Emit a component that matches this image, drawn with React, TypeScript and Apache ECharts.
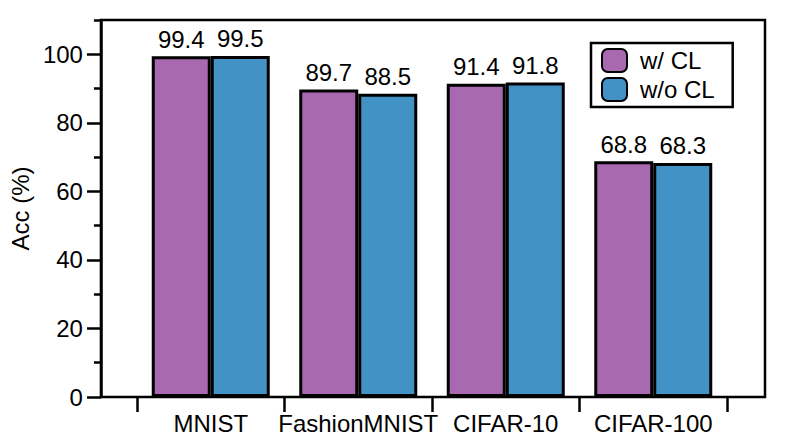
import React, { useEffect, useRef } from "react";
import * as echarts from "echarts";

const categories = ["MNIST", "FashionMNIST", "CIFAR-10", "CIFAR-100"];
const withCL = [99.4, 89.7, 91.4, 68.8];
const withoutCL = [99.5, 88.5, 91.8, 68.3];
const majorTicks = [0, 20, 40, 60, 80, 100];
const minorTicks = [10, 30, 50, 70, 90, 110];
const seriesNames = ["w/ CL", "w/o CL"];

const FONT = "'Liberation Sans', Arial, Helvetica, sans-serif";
const FS = 24;
const PURPLE = "#A869B0";
const BLUE = "#4392C6";

export default function App() {
  const ref = useRef<HTMLDivElement>(null);
  useEffect(() => {
    if (!ref.current) return;
    const chart = echarts.init(ref.current, null, { renderer: "svg" });
    const barStyle = (color: string) => ({
      color,
      borderColor: "#000",
      borderWidth: 3,
    });
    const label = {
      show: true,
      position: "top",
      distance: 5,
      color: "#000",
      fontSize: FS,
      fontFamily: FONT,
      formatter: (p: any) => p.value.toFixed(1),
    };
    chart.setOption({
      animation: false,
      textStyle: { fontFamily: FONT },
      grid: [
        {
          left: 100,
          right: 28,
          top: 20,
          bottom: 44,
          show: true,
          borderColor: "#000",
          borderWidth: 2.5,
          backgroundColor: "transparent",
        },
        { left: 137, right: 66, top: 20, bottom: 44 },
      ],
      legend: {
        data: seriesNames,
        orient: "vertical",
        left: 591,
        top: 43,
        icon: "roundRect",
        itemWidth: 25,
        itemHeight: 23,
        itemGap: 4,
        borderColor: "#000",
        borderWidth: 2.5,
        borderRadius: 0,
        padding: [5, 18, 5, 10],
        textStyle: {
          fontSize: FS,
          color: "#000",
          fontFamily: FONT,
          padding: [0, 0, 0, 8],
        },
      },
      xAxis: [
        { type: "value", gridIndex: 0, min: 0, max: 1, show: false },
        {
          type: "category",
          gridIndex: 1,
          data: categories,
          axisLine: { show: false },
          axisTick: {
            show: true,
            length: 15,
            lineStyle: { color: "#000", width: 2.5 },
          },
          axisLabel: {
            color: "#000",
            fontSize: FS,
            fontFamily: FONT,
            margin: 14,
            interval: 0,
          },
          splitLine: { show: false },
        },
      ],
      yAxis: [
        {
          type: "value",
          gridIndex: 0,
          min: 0,
          max: 110,
          interval: 10,
          name: "Acc (%)",
          nameLocation: "middle",
          nameGap: 64,
          nameTextStyle: { fontSize: FS, color: "#000", fontFamily: FONT },
          axisLine: { show: true, lineStyle: { color: "#000", width: 2.5 } },
          axisTick: {
            show: true,
            length: 14,
            customValues: majorTicks,
            lineStyle: { color: "#000", width: 2.5 },
          },
          axisLabel: {
            color: "#000",
            fontSize: FS,
            fontFamily: FONT,
            margin: 18,
            customValues: majorTicks,
          },
          splitLine: { show: false },
        },
        {
          type: "value",
          gridIndex: 0,
          position: "left",
          min: 0,
          max: 110,
          interval: 10,
          axisLine: { show: false },
          axisTick: {
            show: true,
            length: 7,
            customValues: minorTicks,
            lineStyle: { color: "#000", width: 2.5 },
          },
          axisLabel: { show: false },
          splitLine: { show: false },
        },
        {
          type: "value",
          gridIndex: 1,
          min: 0,
          max: 110,
          show: false,
          splitLine: { show: false },
        },
      ],
      series: [
        {
          name: seriesNames[0],
          type: "bar",
          xAxisIndex: 1,
          yAxisIndex: 2,
          data: withCL,
          barGap: "0%",
          barCategoryGap: "20%",
          itemStyle: barStyle(PURPLE),
          label,
        },
        {
          name: seriesNames[1],
          type: "bar",
          xAxisIndex: 1,
          yAxisIndex: 2,
          data: withoutCL,
          barGap: "0%",
          barCategoryGap: "20%",
          itemStyle: barStyle(BLUE),
          label,
        },
      ],
    });
    return () => chart.dispose();
  }, []);
  return (
    <div
      ref={ref}
      style={{ position: "fixed", left: 0, top: 0, width: 793, height: 441, background: "#fff" }}
    />
  );
}
